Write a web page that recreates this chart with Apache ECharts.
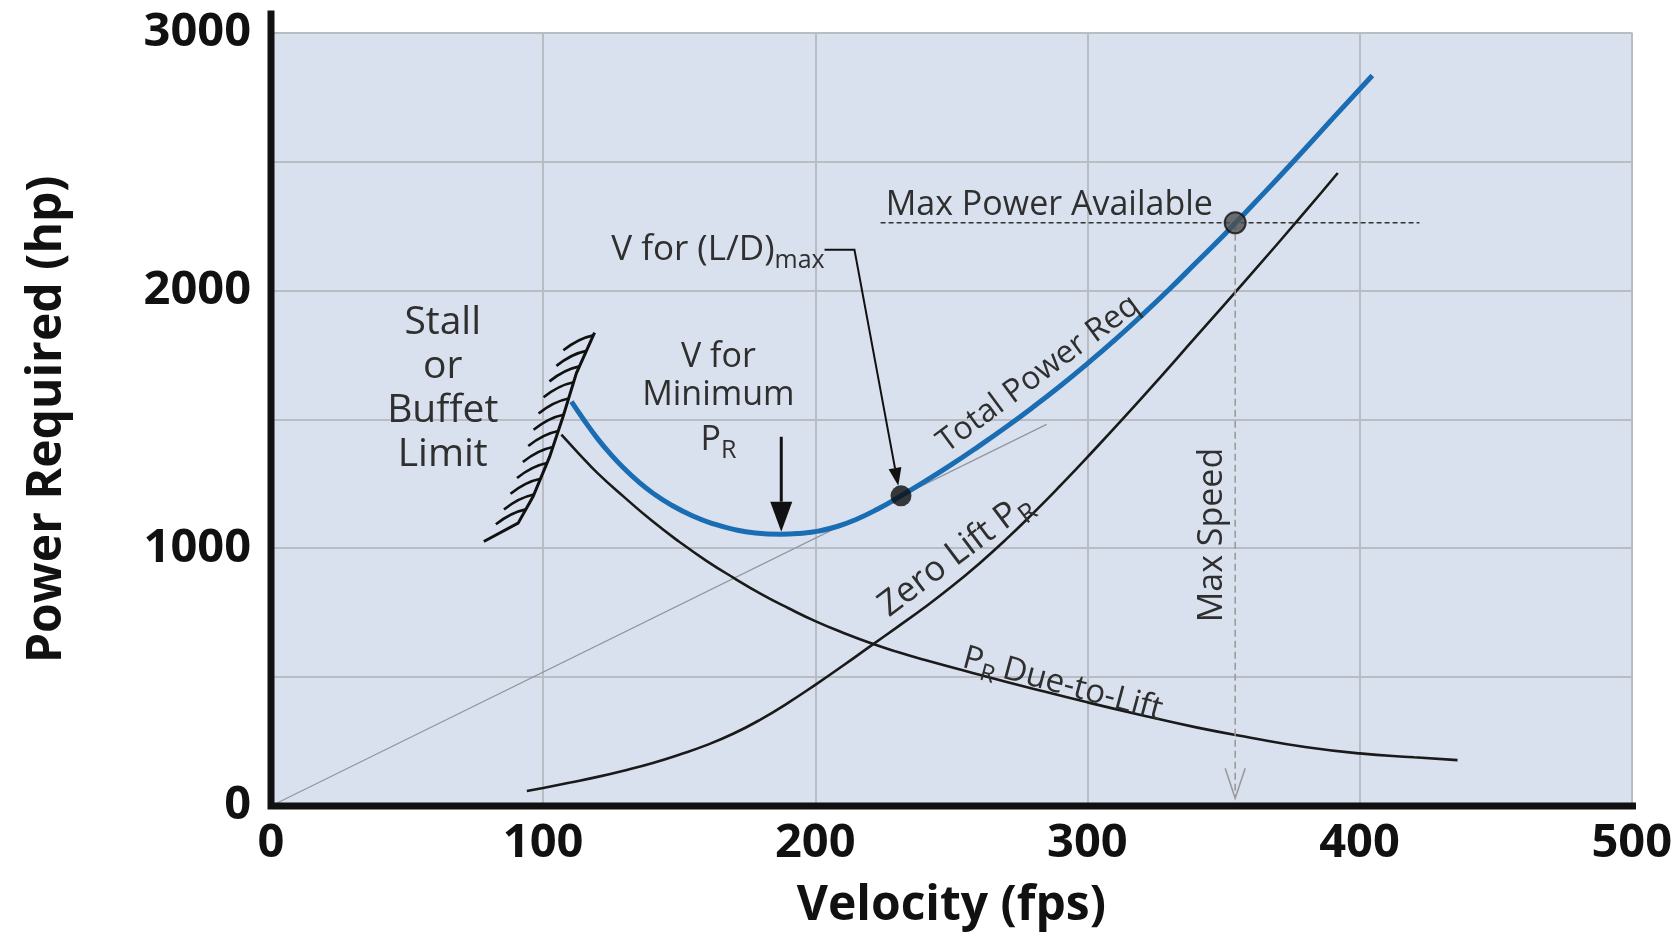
<!DOCTYPE html>
<html>
<head>
<meta charset="utf-8">
<script src="https://cdn.jsdelivr.net/npm/echarts@6/dist/echarts.min.js"></script>
<style>
  html, body { margin: 0; padding: 0; background: #ffffff; }
  #chart { width: 1675px; height: 940px; }
</style>
</head>
<body>
<div id="chart"></div>
<script>
// Power required vs. velocity: induced (lift) power, parasite (zero-lift) power and their sum.

// Axis ticks
const X_TICKS = [0, 100, 200, 300, 400, 500];
const Y_TICKS = [0, 500, 1000, 1500, 2000, 2500, 3000];
const Y_LABELLED = [0, 1000, 2000, 3000];

// Curves: [velocity fps, power hp]
const totalPower = [
  [110.4, 1568], [115, 1497], [120, 1425], [125, 1362], [130, 1307], [135, 1258],
  [140, 1216], [147, 1168], [155, 1125], [163, 1093], [170, 1073], [178, 1059],
  [187, 1054], [195, 1058], [201, 1066], [208, 1084], [215, 1111], [223, 1152],
  [231.5, 1203], [240, 1257], [250, 1324], [260, 1395], [270, 1469], [280, 1547],
  [290, 1629], [300, 1716], [310, 1807], [320, 1903], [330, 2003], [340, 2108],
  [350, 2213], [354.3, 2260], [360, 2323], [370, 2435], [380, 2549], [390, 2665],
  [404.7, 2833]
];
const zeroLiftPower = [
  [94, 58], [100, 70], [110, 91], [120, 113], [130, 138], [140, 166], [150, 199],
  [160, 236], [170, 281], [180, 336], [190, 400], [200, 470], [210, 543], [220, 618],
  [230, 693], [240, 769], [250, 850], [260, 938], [270, 1033], [280, 1135],
  [290, 1242], [300, 1353], [320, 1583], [340, 1821], [360, 2061], [380, 2305],
  [392, 2455]
];
const liftPower = [
  [106.7, 1440], [113, 1368], [120, 1291], [130, 1196], [140, 1106], [150, 1025],
  [160, 951], [170, 885], [180, 823], [190, 768], [200, 717], [210, 673], [220, 633],
  [230, 598], [240, 567], [260, 510], [280, 455], [300, 402], [320, 352], [340, 305],
  [360, 265], [380, 229], [400, 204], [420, 189], [436, 178]
];

// Tangent from the origin touching the total curve at (L/D)max
const ldTangent = [[0, 0], [285, 1480]];

// Key points
const ldMaxPoint = [231.5, 1203];
const maxPowerAvailable = 2262;
const maxPowerSpan = [224, 422];
const maxSpeed = 354.3;

// Stall / buffet boundary (hatched)
const stallBoundary = [
  [78.2, 1026], [90.8, 1097], [96.3, 1200], [102.4, 1355],
  [107.3, 1510], [112.2, 1678], [118.9, 1836]
];

// Leader arrows: polyline in data units, arrow at the last point
const leaders = [
  { points: [[187.5, 1432], [187.5, 1064]], head: 'solid', headLen: 30, headWidth: 22, color: '#111111', width: 3 },
  { points: [[203.4, 2157], [214.4, 2157], [230.5, 1242]], head: 'solid', headLen: 18, headWidth: 13, color: '#111111', width: 2 },
  { points: [[maxSpeed, maxPowerAvailable], [maxSpeed, 30]], head: 'open', headLen: 30, headWidth: 20, color: '#9a9a9a', width: 1.6, dash: [7, 4] }
];

// Annotation texts anchored in data units (sub = subscript after the main text)
const annotations = [
  { text: 'Stall\nor\nBuffet\nLimit', at: [63.1, 1616], size: 39, lineHeight: 44 },
  { text: 'V for\nMinimum', at: [164.4, 1666], size: 34, lineHeight: 38 },
  { text: 'P', sub: 'R', at: [164.4, 1420], size: 34, subSize: 25 },
  { text: 'V for (L/D)', sub: 'max', at: [125.0, 2157], size: 35, subSize: 25, align: 'left' },
  { text: 'Max Power Available', at: [286, 2330], size: 34 },
  { text: 'Total Power Req', at: [282, 1676], size: 32, rotate: 36.5 },
  { text: 'Zero Lift P', sub: 'R', at: [251.5, 974], size: 35, subSize: 26, rotate: 37 },
  { text: 'P', sub: 'R', tail: 'Due-to-Lift', at: [290.9, 472], size: 33, subSize: 24, rotate: -15 },
  { text: 'Max Speed', at: [345.8, 1051], size: 34, rotate: 90 }
];

const TEXT_FAMILY = '"Open Sans"';
const TEXT_FONT = '"Open Sans", "Noto Sans", sans-serif';
const TEXT_COLOR = '#2f2f2f';

const measureCtx = document.createElement('canvas').getContext('2d');
function textWidth(str, size) {
  measureCtx.font = size + 'px ' + TEXT_FAMILY;
  return measureCtx.measureText(str).width;
}

const chart = echarts.init(document.getElementById('chart'), null, { renderer: 'canvas' });

function textEl(str, x, y, size, align, lineHeight) {
  return {
    type: 'text', x: x, y: y,
    style: {
      text: str, fontSize: size, fontFamily: TEXT_FONT, fill: TEXT_COLOR,
      align: align, verticalAlign: 'middle',
      lineHeight: lineHeight || Math.round(size * 1.2)
    }
  };
}

function renderAnnotation(params, api) {
  const a = annotations[params.dataIndex];
  const p = api.coord([api.value(0), api.value(1)]);
  const children = [];
  if (!a.sub) {
    children.push(textEl(a.text, 0, 0, a.size, a.align || 'center', a.lineHeight));
  } else {
    const wMain = textWidth(a.text, a.size);
    const wSub = textWidth(a.sub, a.subSize);
    const gap = a.tail ? a.size * 0.2 : 0;
    const wTail = a.tail ? textWidth(a.tail, a.size) : 0;
    const total = wMain + wSub + gap + wTail;
    const x0 = a.align === 'left' ? 0 : -total / 2;
    children.push(textEl(a.text, x0, 0, a.size, 'left'));
    children.push(textEl(a.sub, x0 + wMain, a.size * 0.31, a.subSize, 'left'));
    if (a.tail) children.push(textEl(a.tail, x0 + wMain + wSub + gap, 0, a.size, 'left'));
  }
  return {
    type: 'group',
    x: p[0], y: p[1],
    rotation: (a.rotate || 0) * Math.PI / 180,
    children: children
  };
}

function renderLeader(params, api) {
  const l = leaders[params.dataIndex];
  const pts = l.points.map(function (d) { return api.coord(d); });
  const tip = pts[pts.length - 1];
  const prev = pts[pts.length - 2];
  let dx = tip[0] - prev[0], dy = tip[1] - prev[1];
  const len = Math.sqrt(dx * dx + dy * dy);
  dx /= len; dy /= len;
  const nx = -dy, ny = dx;
  const base = [tip[0] - dx * l.headLen, tip[1] - dy * l.headLen];
  const wing1 = [base[0] + nx * l.headWidth / 2, base[1] + ny * l.headWidth / 2];
  const wing2 = [base[0] - nx * l.headWidth / 2, base[1] - ny * l.headWidth / 2];
  const shaft = pts.slice(0, -1).concat([l.head === 'solid' ? base : tip]);
  const children = [{
    type: 'polyline',
    shape: { points: shaft },
    style: { stroke: l.color, lineWidth: l.width, fill: null, lineDash: l.dash || null }
  }];
  if (l.head === 'solid') {
    children.push({ type: 'polygon', shape: { points: [tip, wing1, wing2] }, style: { fill: l.color } });
  } else {
    children.push({ type: 'polyline', shape: { points: [wing1, tip, wing2] }, style: { stroke: l.color, lineWidth: l.width, fill: null } });
  }
  return { type: 'group', children: children };
}

function renderStall(params, api) {
  const pts = stallBoundary.map(function (d) { return api.coord(d); });
  const children = [{
    type: 'polyline',
    shape: { points: pts },
    style: { stroke: '#111111', lineWidth: 3, fill: null, lineJoin: 'miter' }
  }];
  // hatch marks on the low-speed side, walking down the steep part from its upper end
  const spacing = 17, hatch = [-30, 15];
  let carry = 3;
  for (let i = pts.length - 1; i > 1; i--) {
    const a = pts[i], b = pts[i - 1];
    const sx = b[0] - a[0], sy = b[1] - a[1];
    const segLen = Math.sqrt(sx * sx + sy * sy);
    let s = carry;
    while (s <= segLen) {
      const t = s / segLen;
      const px = a[0] + sx * t, py = a[1] + sy * t;
      children.push({
        type: 'bezierCurve',
        shape: {
          x1: px, y1: py,
          x2: px + hatch[0], y2: py + hatch[1],
          cpx1: px + hatch[0] * 0.5, cpy1: py + hatch[1] * 0.2
        },
        style: { stroke: '#111111', lineWidth: 2.6, fill: null }
      });
      s += spacing;
    }
    carry = s - segLen;
  }
  return { type: 'group', children: children };
}

const option = {
  animation: false,
  backgroundColor: '#ffffff',
  grid: {
    left: 271, right: 42, top: 32.5, bottom: 134,
    show: true, backgroundColor: '#dae1ee', borderWidth: 0
  },
  xAxis: {
    type: 'value',
    min: X_TICKS[0], max: X_TICKS[X_TICKS.length - 1], interval: X_TICKS[1] - X_TICKS[0],
    name: 'Velocity (fps)',
    nameLocation: 'middle',
    nameGap: 76,
    nameTextStyle: { fontFamily: TEXT_FONT, fontWeight: 'bold', fontSize: 48, color: '#111111' },
    axisLine: { show: false },
    axisTick: { show: false },
    axisLabel: { margin: 14, fontFamily: TEXT_FONT, fontWeight: 'bold', fontSize: 47, color: '#111111' },
    splitLine: { show: true, lineStyle: { color: '#b9bcc3', width: 2 } }
  },
  yAxis: {
    type: 'value',
    min: Y_TICKS[0], max: Y_TICKS[Y_TICKS.length - 1], interval: Y_TICKS[1] - Y_TICKS[0],
    name: 'Power Required (hp)',
    nameLocation: 'middle',
    nameRotate: 90,
    nameGap: 200,
    nameTextStyle: { fontFamily: TEXT_FONT, fontWeight: 'bold', fontSize: 48, color: '#111111' },
    axisLine: { show: false },
    axisTick: { show: false },
    axisLabel: {
      margin: 20, fontFamily: TEXT_FONT, fontWeight: 'bold', fontSize: 47, color: '#111111',
      formatter: function (v) { return Y_LABELLED.indexOf(v) >= 0 ? String(v) : ''; }
    },
    splitLine: { show: true, lineStyle: { color: '#b9bcc3', width: 2 } }
  },
  series: [
    {
      name: 'L/D tangent', type: 'line', data: ldTangent, showSymbol: false, silent: true, z: 2,
      lineStyle: { color: '#8f96a1', width: 1.2 }
    },
    {
      name: 'Max power available', type: 'line',
      data: [[maxPowerSpan[0], maxPowerAvailable], [maxPowerSpan[1], maxPowerAvailable]],
      showSymbol: false, silent: true, z: 2,
      lineStyle: { color: '#333333', width: 1.6, type: [5, 3] }
    },
    {
      name: 'Leaders', type: 'custom', data: leaders.map(function (l) { return l.points[0]; }),
      renderItem: renderLeader, silent: true, z: 4, clip: false
    },
    {
      name: 'Stall boundary', type: 'custom', data: [stallBoundary[0]],
      renderItem: renderStall, silent: true, z: 3
    },
    {
      name: 'PR due to lift', type: 'line', data: liftPower, smooth: true, showSymbol: false, silent: true, z: 3,
      lineStyle: { color: '#1a1a1a', width: 2.6 }
    },
    {
      name: 'Zero lift PR', type: 'line', data: zeroLiftPower, smooth: true, showSymbol: false, silent: true, z: 3,
      lineStyle: { color: '#1a1a1a', width: 2.6 }
    },
    {
      name: 'Total power required', type: 'line', data: totalPower, smooth: true, showSymbol: false, silent: true, z: 5,
      lineStyle: { color: '#1b6db3', width: 5 }
    },
    {
      name: '(L/D)max', type: 'scatter', data: [ldMaxPoint], symbolSize: 21, silent: true, z: 6,
      itemStyle: { color: '#0d0d0d' }
    },
    {
      name: 'Max speed point', type: 'scatter', data: [[maxSpeed, maxPowerAvailable]], symbolSize: 21, silent: true, z: 6,
      itemStyle: { color: '#4d4d4d', borderColor: '#111111', borderWidth: 2 }
    },
    {
      name: 'Annotations', type: 'custom', data: annotations.map(function (a) { return a.at; }),
      renderItem: renderAnnotation, silent: true, z: 7, clip: false
    },
    {
      name: 'Axes', type: 'line', data: [[0, 3085], [0, 0], [507, 0]], clip: false,
      showSymbol: false, silent: true, z: 8,
      lineStyle: { color: '#111111', width: 7, join: 'miter', cap: 'butt' }
    }
  ]
};

chart.setOption(option);
</script>
</body>
</html>
